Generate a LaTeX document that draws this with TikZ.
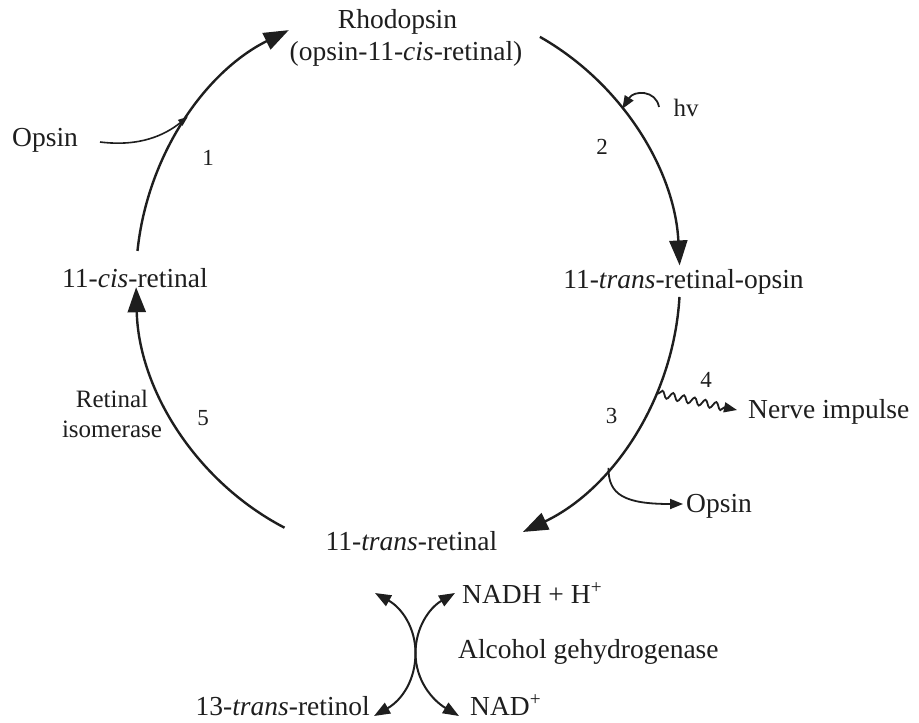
\documentclass[tikz,border=0pt]{standalone}
\usepackage{fontspec}
\setmainfont{Liberation Serif}
\usetikzlibrary{arrows.meta,calc,decorations.pathmorphing}
\definecolor{ink}{RGB}{30,30,30}
\begin{document}
\begin{tikzpicture}[x=1pt,y=1pt,
  lbl/.style={font=\fontsize{27.5}{32}\selectfont, text=ink, inner sep=0pt, anchor=base},
  num/.style={font=\fontsize{23}{26}\selectfont, text=ink, inner sep=0pt, anchor=base},
  enz/.style={font=\fontsize{25}{30}\selectfont, text=ink, inner sep=0pt, align=center, anchor=base},
  cyc/.style={draw=ink, line width=2.4pt, -{Triangle[length=25pt,width=18pt]}},
  side/.style={draw=ink, line width=1.8pt, -{Triangle[length=13pt,width=10pt]}},
  tinyarr/.style={draw=ink, line width=1.6pt, -{Triangle[length=10pt,width=7pt]}},
  cross/.style={draw=ink, line width=2pt, {Triangle[length=16pt,width=12pt]}-{Triangle[length=16pt,width=12pt]}},
  ]
\useasboundingbox (0,0) rectangle (919,-723);
\fill[white] (0,0) rectangle (919,-723);

% texts
\node[lbl] (rhod) at (397.5,-28) {Rhodopsin};
\node[lbl] (rhod2) at (406,-60) {(opsin-11-\textit{cis}-retinal)};
\node[lbl, anchor=base west] (opsinL) at (12,-146) {Opsin};
\node[lbl] (cis) at (135,-287) {11-\textit{cis}-retinal};
\node[lbl] (transop) at (683.5,-288) {11-\textit{trans}-retinal-opsin};
\node[lbl] (trans) at (411.5,-550) {11-\textit{trans}-retinal};
\node[lbl, anchor=base west] (nerve) at (748,-418) {Nerve impulse};
\node[lbl, anchor=base west] (opsinR) at (686,-512) {Opsin};
\node[lbl, anchor=base east] (retinol) at (370,-715) {13-\textit{trans}-retinol};
\node[lbl, anchor=base west] (nadh) at (462,-603) {NADH + H\textsuperscript{+}};
\node[lbl, anchor=base west] (adh) at (458,-658) {Alcohol gehydrogenase};
\node[lbl, anchor=base west] (nad) at (470,-715) {NAD\textsuperscript{+}};
\node[enz] (iso) at (112,-437) {Retinal\\isomerase};
\node[num] (n1) at (208,-165) {1};
\node[num] (n2) at (602,-154) {2};
\node[num] (n3) at (611.5,-423) {3};
\node[num] (n4) at (706,-387) {4};
\node[num] (n5) at (203,-425) {5};
\node[enz] (hv) at (686,-116) {hv};

% cycle geometry
\coordinate (O) at (408,-280);
\coordinate (a1s) at ($(O)+(174:272pt and 278pt)$);
\coordinate (a2s) at ($(O)+(61:272pt and 278pt)$);
\coordinate (a3s) at ($(O)+(-3.5:272pt and 278pt)$);
\coordinate (a5s) at ($(O)+(243:272pt and 278pt)$);
\coordinate (j1) at ($(O)+(144:272pt and 278pt)$);
\coordinate (j2) at ($(O)+(38:272pt and 278pt)$);
\coordinate (j4) at ($(O)+(-24:272pt and 278pt)$);
\coordinate (j3) at ($(O)+(-42.5:272pt and 278pt)$);

\draw[cyc] (a1s) arc[start angle=174, end angle=116, x radius=272pt, y radius=278pt];
\draw[cyc] (a2s) arc[start angle=61, end angle=3, x radius=272pt, y radius=278pt];
\draw[cyc] (a3s) arc[start angle=-3.5, end angle=-65, x radius=272pt, y radius=278pt];
\draw[cyc] (a5s) arc[start angle=243, end angle=181.5, x radius=272pt, y radius=278pt];

% side arrows
\coordinate (oL) at (100,-142);
\draw[tinyarr] (oL) .. controls (140,-147) and (165,-135) .. (j1);
\coordinate (hvs) at (659,-107);
\draw[side] (hvs) .. controls (656,-90) and (634,-90) .. (j2);
\coordinate (nT) at (737,-410);
\draw[side, decorate, decoration={snake, amplitude=3.5pt, segment length=11pt, pre length=2pt, post length=12pt}]
  (j4) -- (nT);
\coordinate (oRT) at (683,-504);
\draw[side] (j3) .. controls (608,-495) and (625,-504) .. (oRT);

% crossing arrows
\coordinate (ul) at (375,-593);
\coordinate (ll) at (374,-716);
\coordinate (ur) at (455,-593);
\coordinate (lr) at (459,-716);
\coordinate (mid) at (415.5,-653);
\draw[cross] (ul) .. controls (402,-608) and (415.5,-628) .. (mid) .. controls (415.5,-680) and (402,-700) .. (ll);
\draw[cross] (ur) .. controls (429,-608) and (415.5,-628) .. (mid) .. controls (415.5,-680) and (432,-700) .. (lr);
\end{tikzpicture}
\end{document}
